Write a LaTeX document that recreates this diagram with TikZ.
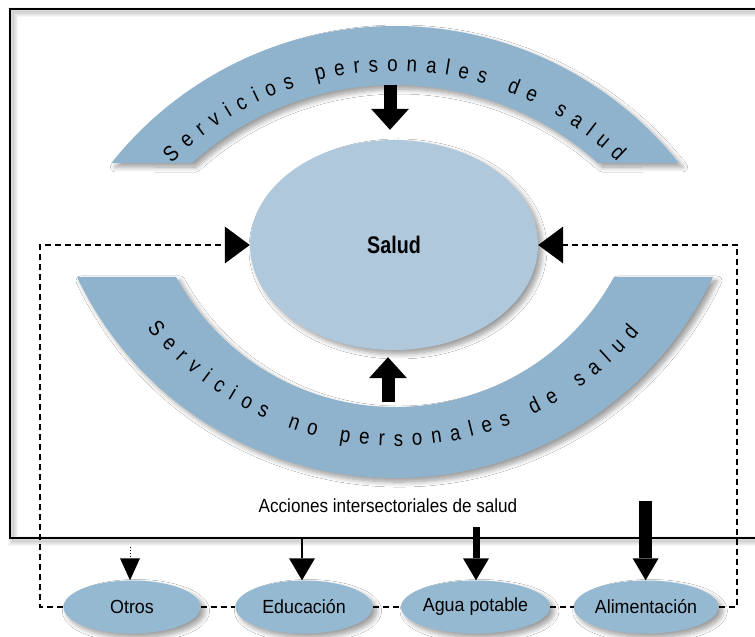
\documentclass[tikz,border=0pt]{standalone}
\usepackage{fontspec}
\setmainfont{Liberation Sans}
\newfontfamily\condfont{Liberation Sans}[FakeStretch=0.9]
\newfontfamily\ovalfont{Liberation Sans}[FakeStretch=0.94]
\newfontfamily\boldcond{Liberation Sans}[FakeStretch=0.82]
\newfontfamily\arcfont{Liberation Sans}[FakeStretch=0.85]
\usetikzlibrary{arrows.meta,shapes.geometric,decorations.text,calc,shadows.blur}
\definecolor{arcblue}{RGB}{143,179,204}
\definecolor{saludblue}{RGB}{176,200,220}
\definecolor{ovalblue}{RGB}{150,185,210}
\begin{document}
\begin{tikzpicture}[x=1pt,y=1pt,
  softshadow/.style={blur shadow={shadow xshift=4pt,shadow yshift=-4pt,shadow blur radius=5pt,shadow blur steps=8,shadow opacity=40}},
  arcband/.style={fill=arcblue,draw=none,softshadow},
  oval/.style={ellipse,fill=ovalblue,minimum width=137pt,minimum height=53pt,inner sep=0pt,softshadow,font=\ovalfont\fontsize{19}{21}\selectfont},
  dashline/.style={line width=1.3pt,dash pattern=on 6pt off 4pt},
  sidetip/.style={-{Triangle[width=37pt,length=25pt,line width=0pt]}},
  bigtip/.style={line width=13pt,-{Triangle[width=38pt,length=21pt,line width=0pt]}},
  smalltip/.style={-{Triangle[width=#1,length=22pt,line width=0pt]}},
]
\useasboundingbox (0,0) rectangle (755,637);
\clip (0,0) rectangle (755,637);
\fill[white] (0,0) rectangle (755,637);

% frame with soft shadow
\foreach \w in {2,4,6,8,10}{
  \draw[line width=\w pt,black,opacity=0.035] (13,96) rectangle (773,625);
}
\draw[line width=1.6pt] (10,99) rectangle (770,628);

% top arc
\coordinate (c1) at (395,249);
\fill[arcband] ($(c1)+(141.57:362)$) arc[start angle=141.57,end angle=38.43,radius=362]
  -- ($(c1)+(47.95:303)$) arc[start angle=47.95,end angle=132.05,radius=303] -- cycle;
\path[decorate,decoration={text along path,
  text={|\arcfont\fontsize{22}{24}\selectfont|Servicios personales de salud},
  text align={fit to path}}]
  ($(c1)+(134.8:317)$) arc[start angle=134.8,end angle=45.6,radius=317];

% bottom arc
\coordinate (c2o) at (395,511);
\coordinate (c2i) at (395,479.4);
\fill[arcband] ($(c2o)+(205.4:352)$) arc[start angle=205.4,end angle=334.6,radius=352]
  -- ($(c2i)+(331.4:249.4)$) arc[start angle=331.4,end angle=208.6,radius=249.4] -- cycle;
\path[decorate,decoration={text along path,
  text={|\arcfont\fontsize{22}{24}\selectfont|Servicios no personales de salud},
  text align={fit to path}}]
  ($(c2o)+(219.2:320)$) arc[start angle=219.2,end angle=319.8,radius=320];

% Salud
\node[ellipse,fill=saludblue,minimum width=288pt,minimum height=210pt,inner sep=0pt,softshadow,
  font=\boldcond\bfseries\fontsize{24}{26}\selectfont] (salud) at (394,392) {Salud};

% block arrows
\coordinate (tA) at (390,552);
\draw[bigtip,shorten >=10pt] (tA) -- (tA |- salud.north);
\coordinate (bA) at (388,235);
\draw[bigtip,shorten >=7pt] (bA) -- (bA |- salud.south);

% text
\node[font=\condfont\fontsize{19}{22}\selectfont] (acc) at (388,131) {Acciones intersectoriales de salud};

% bottom ovals
\node[oval] (otros) at (132,30) {Otros};
\node[oval] (edu) at (304,30) {Educación};
\node[oval] (agua) at (475.5,30) {Agua potable};
\node[oval] (alim) at (646,30) {Alimentación};

% dashed loop
\coordinate (lc) at (40,30);
\coordinate (rc) at (737,30);
\draw[dashline,sidetip] (otros.west) -- (lc) |- (salud.west);
\draw[dashline,sidetip] (alim.east) -- (rc) |- (salud.east);
\draw[dashline] (otros.east) -- (edu.west);
\draw[dashline] (edu.east) -- (agua.west);
\draw[dashline] (agua.east) -- (alim.west);

% arrows to ovals
\coordinate (o1) at (130,90);
\coordinate (o2) at (302,99);
\coordinate (o3) at (476,110);
\coordinate (o4) at (645.6,136);
\draw[line width=0.7pt,dash pattern=on 1.5pt off 1.5pt,smalltip=20pt] (o1) -- (o1 |- otros.north);
\draw[line width=1.2pt,smalltip=26pt] (o2) -- (o2 |- edu.north);
\draw[line width=7pt,smalltip=26pt] (o3) -- (o3 |- agua.north);
\draw[line width=13pt,smalltip=26pt] (o4) -- (o4 |- alim.north);
\end{tikzpicture}
\end{document}
